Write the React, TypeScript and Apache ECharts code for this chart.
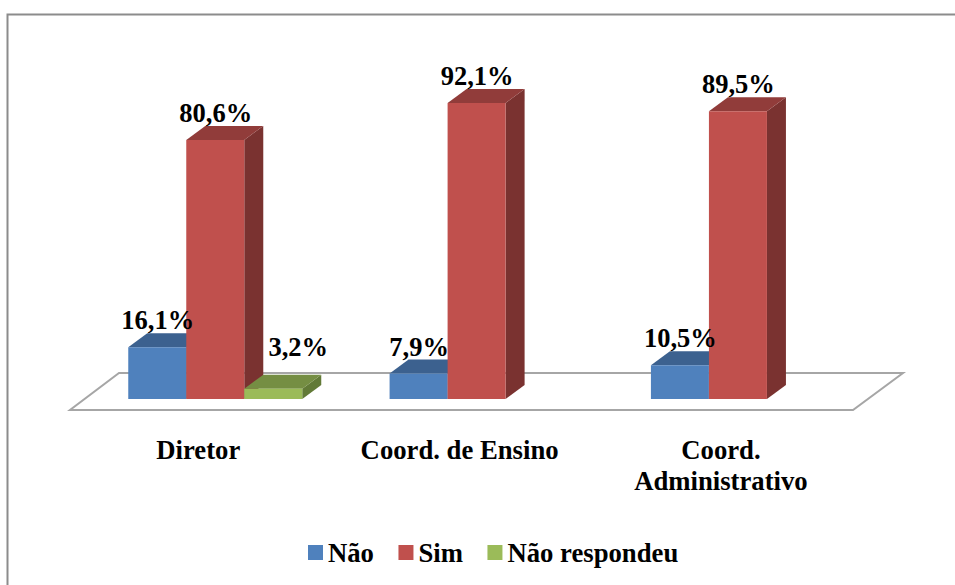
import React, { useEffect, useRef } from "react";
import * as echarts from "echarts";

const categories = ["Diretor", "Coord. de Ensino", "Coord.\nAdministrativo"];
const naoValues = [16.1, 7.9, 10.5];
const simValues = [80.6, 92.1, 89.5];
const naoRespondeuValues: (number | null)[] = [3.2, null, null];

const seriesNames = ["Não", "Sim", "Não respondeu"];
const frontColors = ["#4f81bd", "#c0504d", "#9bbb59"];
const topColors = ["#3c618f", "#913c3a", "#758e43"];
const sideColors = ["#3c618f", "#7a3230", "#627a37"];

const BAR_WIDTH_RATIO = 58 / 261.3;
const DEPTH_X = 19;
const DEPTH_Y = 14;
const FONT = '"Liberation Serif", "Times New Roman", serif';
const LABEL_SIZE = 26.5;
const TEXT_SIZE = 26.7;

const fmt = (v: number) => v.toFixed(1).replace(".", ",") + "%";

// One extruded column per data item: front, top and side faces plus its value label.
const columnRenderer =
  (seriesIndex: number) => (_params: any, api: any) => {
    const value = api.value(1);
    if (value == null || isNaN(value)) return { type: "group", children: [] };
    const band = api.size([1, 0])[0];
    const w = band * BAR_WIDTH_RATIO;
    const [cx, yTop] = api.coord([api.value(0), value]);
    const [, yBase] = api.coord([api.value(0), 0]);
    const x0 = cx + (seriesIndex - 1.5) * w;
    const x1 = x0 + w;
    const small = value < 5;
    return {
      type: "group",
      children: [
        {
          type: "polygon",
          shape: { points: [[x1, yTop], [x1 + DEPTH_X, yTop - DEPTH_Y], [x1 + DEPTH_X, yBase - DEPTH_Y], [x1, yBase]] },
          style: { fill: sideColors[seriesIndex] },
        },
        {
          type: "polygon",
          shape: { points: [[x0, yTop], [x0 + DEPTH_X, yTop - DEPTH_Y], [x1 + DEPTH_X, yTop - DEPTH_Y], [x1, yTop]] },
          style: { fill: topColors[seriesIndex] },
        },
        {
          type: "rect",
          shape: { x: x0, y: yTop, width: w, height: yBase - yTop },
          style: { fill: frontColors[seriesIndex] },
        },
        {
          type: "text",
          z2: 100,
          x: x0 + w / 2 + (small ? 25 : 0.5),
          y: yTop - DEPTH_Y - (small ? 28 : 13),
          style: {
            text: fmt(value),
            fontFamily: FONT,
            fontSize: LABEL_SIZE,
            fontWeight: "bold",
            fill: "#000",
            align: "center",
            verticalAlign: "middle",
          },
        },
      ],
    };
  };

const buildSeries = (values: (number | null)[], i: number) => ({
  type: "custom",
  name: seriesNames[i],
  coordinateSystem: "cartesian2d",
  itemStyle: { color: frontColors[i] },
  encode: { x: 0, y: 1 },
  data: values.map((v, c) => [c, v == null ? "-" : v]),
  renderItem: columnRenderer(i),
});

export default function App() {
  const ref = useRef<HTMLDivElement>(null);
  useEffect(() => {
    const chart = echarts.init(ref.current!, null, { renderer: "svg" });
    chart.setOption({
      animation: false,
      backgroundColor: "#fff",
      grid: { left: 84.6, width: 784, top: 77.6, height: 321.4 },
      xAxis: {
        type: "category",
        data: categories,
        axisLine: { show: false },
        axisTick: { show: false },
        splitLine: { show: false },
        axisLabel: {
          interval: 0,
          margin: 35,
          padding: [0, 34, 0, 0],
          fontFamily: FONT,
          fontSize: TEXT_SIZE,
          fontWeight: "bold",
          color: "#000",
          lineHeight: 31,
        },
      },
      yAxis: { type: "value", min: 0, max: 100, show: false, splitLine: { show: false } },
      legend: {
        left: 308,
        top: 539,
        padding: 0,
        icon: "rect",
        itemWidth: 15,
        itemHeight: 15,
        itemGap: 24.5,
        data: seriesNames,
        textStyle: { fontFamily: FONT, fontSize: TEXT_SIZE, fontWeight: "bold", color: "#000", padding: [2, 0, 0, 0] },
      },
      graphic: [
        {
          type: "rect",
          silent: true,
          z: -1,
          shape: { x: 7.5, y: 14.5, width: 1000, height: 700 },
          style: { fill: "#fff", stroke: "#8c8c8c", lineWidth: 2 },
        },
        {
          type: "polygon",
          silent: true,
          z: 0,
          shape: { points: [[70, 410], [853, 410], [903, 373], [119, 373]] },
          style: { fill: "#fff", stroke: "#a6a6a6", lineWidth: 2 },
        },
      ],
      series: [naoValues, simValues, naoRespondeuValues].map(buildSeries),
    });
    return () => chart.dispose();
  }, []);
  return <div ref={ref} style={{ position: "fixed", left: 0, top: 0, width: 955, height: 585 }} />;
}
